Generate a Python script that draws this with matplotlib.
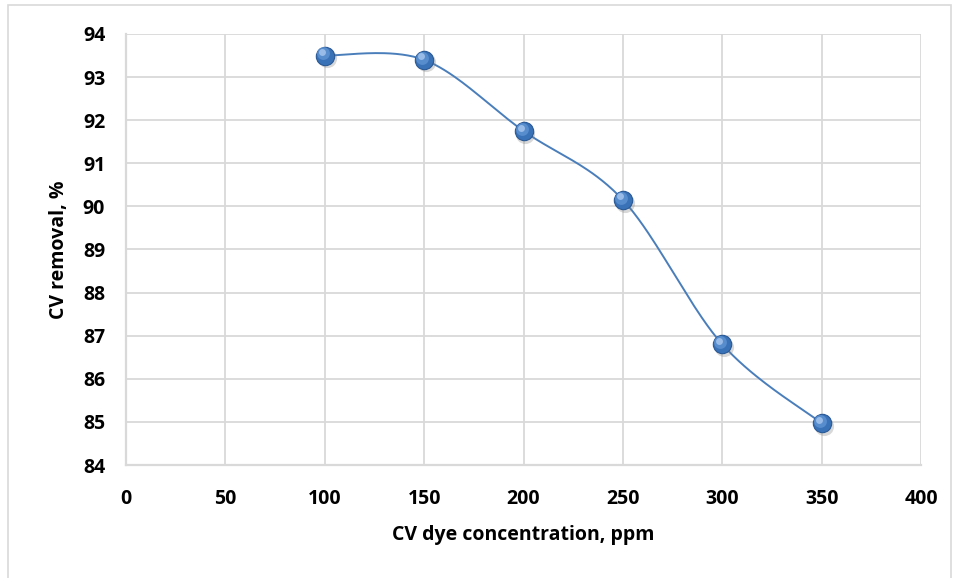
import numpy as np
import matplotlib.pyplot as plt
from matplotlib.patches import Rectangle

plt.rcParams['font.family'] = ['Open Sans', 'DejaVu Sans']
plt.rcParams['font.weight'] = 'bold'

# data
conc = [100, 150, 200, 250, 300, 350]
removal = [93.5, 93.4, 91.75, 90.15, 86.8, 84.97]

x_ticks = [0, 50, 100, 150, 200, 250, 300, 350, 400]
y_ticks = [84, 85, 86, 87, 88, 89, 90, 91, 92, 93, 94]


def smooth_line(xs, ys, n=40, t=1/6):
    # Excel style smoothed line: cubic Bezier through the points
    xs = np.asarray(xs, float)
    ys = np.asarray(ys, float)
    px, py = [], []
    for i in range(len(xs) - 1):
        x0, y0 = (xs[i - 1], ys[i - 1]) if i > 0 else (xs[i], ys[i])
        x3, y3 = (xs[i + 2], ys[i + 2]) if i + 2 < len(xs) else (xs[i + 1], ys[i + 1])
        c1x = xs[i] + (xs[i + 1] - x0) * t
        c1y = ys[i] + (ys[i + 1] - y0) * t
        c2x = xs[i + 1] - (x3 - xs[i]) * t
        c2y = ys[i + 1] - (y3 - ys[i]) * t
        s = np.linspace(0, 1, n)
        bx = (1-s)**3*xs[i] + 3*(1-s)**2*s*c1x + 3*(1-s)*s**2*c2x + s**3*xs[i+1]
        by = (1-s)**3*ys[i] + 3*(1-s)**2*s*c1y + 3*(1-s)*s**2*c2y + s**3*ys[i+1]
        px.extend(bx)
        py.extend(by)
    return px, py


fig = plt.figure(figsize=(9.56, 5.78), dpi=100)
ax = fig.add_axes([0.1318, 0.1955, 0.8316, 0.7457])

# outer chart border
fig.patches.append(Rectangle((8/956, -0.01), 943/956, 1 - 5/578 + 0.01,
                             transform=fig.transFigure, fill=False,
                             edgecolor='#D9D9D9', linewidth=1.2))

sx, sy = smooth_line(conc, removal)
ax.plot(sx, sy, color='#4A7EBB', linewidth=1.4, zorder=3)

# sphere-like markers: shadow, body, highlight
ax.scatter(np.array(conc) + 1.0, np.array(removal) - 0.06, s=190, color='#7F7F7F',
           alpha=0.3, linewidths=0, zorder=4)
ax.scatter(conc, removal, s=175, color='#3A72B8', edgecolors='#2A5A96',
           linewidths=0.8, zorder=5)
ax.scatter(np.array(conc) - 0.9, np.array(removal) + 0.05, s=85, color='#5F93D3',
           linewidths=0, alpha=0.8, zorder=6)
ax.scatter(np.array(conc) - 1.4, np.array(removal) + 0.08, s=25, color='#A9C8EE',
           linewidths=0, alpha=0.8, zorder=7)

ax.set_xlim(0, 400)
ax.set_ylim(84, 94)
ax.set_xticks(x_ticks)
ax.set_yticks(y_ticks)
ax.tick_params(length=0, labelsize=14, pad=17)
ax.tick_params(axis='y', pad=15)
ax.grid(True, color='#D9D9D9', linewidth=1.3)
ax.set_axisbelow(True)
for side in ['top', 'right']:
    ax.spines[side].set_visible(False)
for side in ['left', 'bottom']:
    ax.spines[side].set_color('#D9D9D9')
    ax.spines[side].set_linewidth(1.6)

ax.set_xlabel('CV dye concentration, ppm', fontsize=14, fontweight='bold', labelpad=12)
ax.set_ylabel('CV removal, %', fontsize=14, fontweight='bold', labelpad=10)

fig.savefig('out.png', dpi=100)
